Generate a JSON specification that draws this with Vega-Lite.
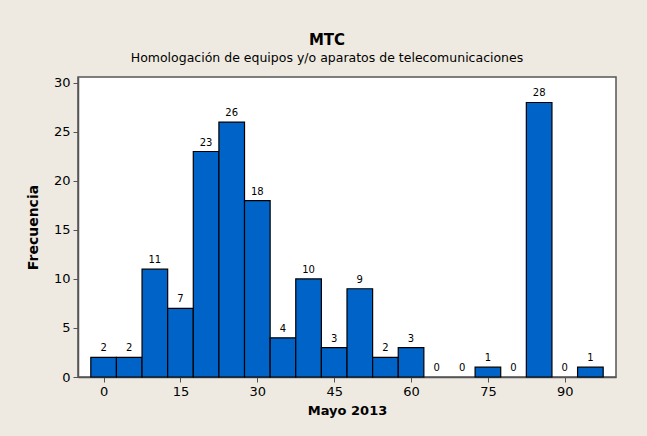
{
  "$schema": "https://vega.github.io/schema/vega-lite/v6.json",
  "width": 538,
  "height": 300,
  "autosize": {"type": "none"},
  "padding": {"left": 78, "top": 77, "right": 31, "bottom": 59},
  "background": "#EEEAE1",
  "config": {
    "font": "DejaVu Sans",
    "view": {"fill": "white", "stroke": "#555555", "strokeWidth": 1.5},
    "axis": {"grid": false, "domainColor": "#555555", "tickColor": "#555555", "labelColor": "#000000", "titleColor": "#000000", "labelFont": "DejaVu Sans", "titleFont": "DejaVu Sans", "labelFontSize": 13, "titleFontSize": 13, "titleFontWeight": "bold", "tickSize": 5, "domainWidth": 1.5}
  },
  "title": {
    "text": "MTC",
    "subtitle": "Homologación de equipos y/o aparatos de telecomunicaciones",
    "anchor": "middle",
    "dx": -20,
    "fontSize": 15,
    "fontWeight": "bold",
    "font": "DejaVu Sans",
    "subtitleFont": "DejaVu Sans",
    "subtitleFontSize": 12.5,
    "subtitleColor": "#000000",
    "color": "#000000",
    "subtitlePadding": 4,
    "offset": 12
  },
  "data": {
    "values": [
      {"lo": -2.5, "hi": 2.5, "mid": 0, "n": 2},
      {"lo": 2.5, "hi": 7.5, "mid": 5, "n": 2},
      {"lo": 7.5, "hi": 12.5, "mid": 10, "n": 11},
      {"lo": 12.5, "hi": 17.5, "mid": 15, "n": 7},
      {"lo": 17.5, "hi": 22.5, "mid": 20, "n": 23},
      {"lo": 22.5, "hi": 27.5, "mid": 25, "n": 26},
      {"lo": 27.5, "hi": 32.5, "mid": 30, "n": 18},
      {"lo": 32.5, "hi": 37.5, "mid": 35, "n": 4},
      {"lo": 37.5, "hi": 42.5, "mid": 40, "n": 10},
      {"lo": 42.5, "hi": 47.5, "mid": 45, "n": 3},
      {"lo": 47.5, "hi": 52.5, "mid": 50, "n": 9},
      {"lo": 52.5, "hi": 57.5, "mid": 55, "n": 2},
      {"lo": 57.5, "hi": 62.5, "mid": 60, "n": 3},
      {"lo": 62.5, "hi": 67.5, "mid": 65, "n": 0},
      {"lo": 67.5, "hi": 72.5, "mid": 70, "n": 0},
      {"lo": 72.5, "hi": 77.5, "mid": 75, "n": 1},
      {"lo": 77.5, "hi": 82.5, "mid": 80, "n": 0},
      {"lo": 82.5, "hi": 87.5, "mid": 85, "n": 28},
      {"lo": 87.5, "hi": 92.5, "mid": 90, "n": 0},
      {"lo": 92.5, "hi": 97.5, "mid": 95, "n": 1}
    ]
  },
  "layer": [
    {
      "transform": [{"filter": "datum.n > 0"}],
      "mark": {"type": "bar", "fill": "#0063C8", "stroke": "#000000", "strokeWidth": 1.2},
      "encoding": {
        "x": {"field": "lo", "type": "quantitative", "scale": {"domain": [-5, 100], "nice": false, "zero": false}, "axis": {"values": [0, 15, 30, 45, 60, 75, 90], "title": "Mayo 2013", "titlePadding": 6, "labelPadding": 3}},
        "x2": {"field": "hi"},
        "y": {"field": "n", "type": "quantitative", "scale": {"domain": [0, 30.6], "nice": false}, "axis": {"values": [0, 5, 10, 15, 20, 25, 30], "title": "Frecuencia", "titleFontSize": 14, "titlePadding": 13, "labelPadding": 3}},
        "y2": {"datum": 0}
      }
    },
    {
      "mark": {"type": "text", "baseline": "bottom", "dy": -4, "fontSize": 10, "color": "#000000"},
      "encoding": {
        "x": {"field": "mid", "type": "quantitative"},
        "y": {"field": "n", "type": "quantitative"},
        "text": {"field": "n", "type": "quantitative"}
      }
    }
  ]
}
